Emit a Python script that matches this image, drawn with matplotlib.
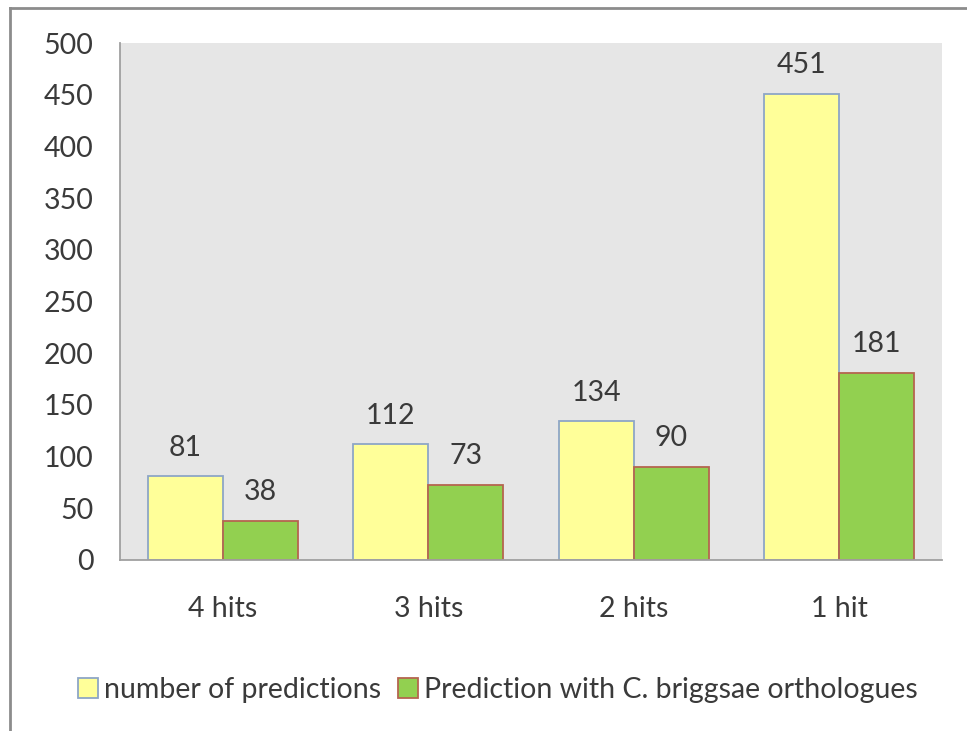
import matplotlib
matplotlib.use("Agg")
import matplotlib.pyplot as plt
import numpy as np
from matplotlib.lines import Line2D

categories = ["4 hits", "3 hits", "2 hits", "1 hit"]
predictions = [81, 112, 134, 451]
orthologues = [38, 73, 90, 181]
series_names = ["number of predictions", "Prediction with C. briggsae orthologues"]
yticks = [0, 50, 100, 150, 200, 250, 300, 350, 400, 450, 500]

plt.rcParams["font.family"] = ["Lato", "DejaVu Sans"]
TXT = "#3a3a3a"
FS = 20.5

fig = plt.figure(figsize=(9.67, 7.31), dpi=100)
fig.patch.set_facecolor("white")

# outer frame of the chart: left and top edges only
fx, fy = 10 / 967, 1 - 8 / 731
fig.add_artist(Line2D([fx, fx], [0, fy], transform=fig.transFigure,
                      color="#8c8c8c", linewidth=2))
fig.add_artist(Line2D([fx, 1], [fy, fy], transform=fig.transFigure,
                      color="#8c8c8c", linewidth=2))

ax = fig.add_axes([120 / 967, 1 - 560 / 731, (942 - 120) / 967, (560 - 43) / 731])
ax.set_facecolor("#e6e6e6")

x = np.arange(len(categories))
w = 0.365
b1 = ax.bar(x - w / 2, predictions, w, color="#ffff99", edgecolor="#8ea6c6",
            linewidth=1.3, label=series_names[0])
b2 = ax.bar(x + w / 2, orthologues, w, color="#92d050", edgecolor="#b5654f",
            linewidth=1.3, label=series_names[1])

for rects, vals in ((b1, predictions), (b2, orthologues)):
    for r, v in zip(rects, vals):
        ax.text(r.get_x() + r.get_width() / 2, v + 15, str(v), ha="center",
                va="bottom", fontsize=FS, color=TXT)

ax.set_xlim(-0.5, len(categories) - 0.5)
ax.set_ylim(0, 500)
ax.set_yticks(yticks)
ax.set_xticks(x)
ax.set_xticklabels(categories)
ax.tick_params(axis="both", length=0, labelsize=FS, colors=TXT)
ax.tick_params(axis="y", pad=19)
ax.tick_params(axis="x", pad=26)
for s in ("top", "right"):
    ax.spines[s].set_visible(False)
for s in ("left", "bottom"):
    ax.spines[s].set_color("#a0a0a0")
    ax.spines[s].set_linewidth(1.3)

fig.legend(handles=[b1, b2], loc="center", bbox_to_anchor=(498 / 967, 1 - 690 / 731),
           ncol=2, frameon=False, fontsize=FS, handlelength=0.7, handleheight=0.7,
           handletextpad=0.2, columnspacing=0.6, labelcolor=TXT)

fig.savefig("out.png", dpi=100)
